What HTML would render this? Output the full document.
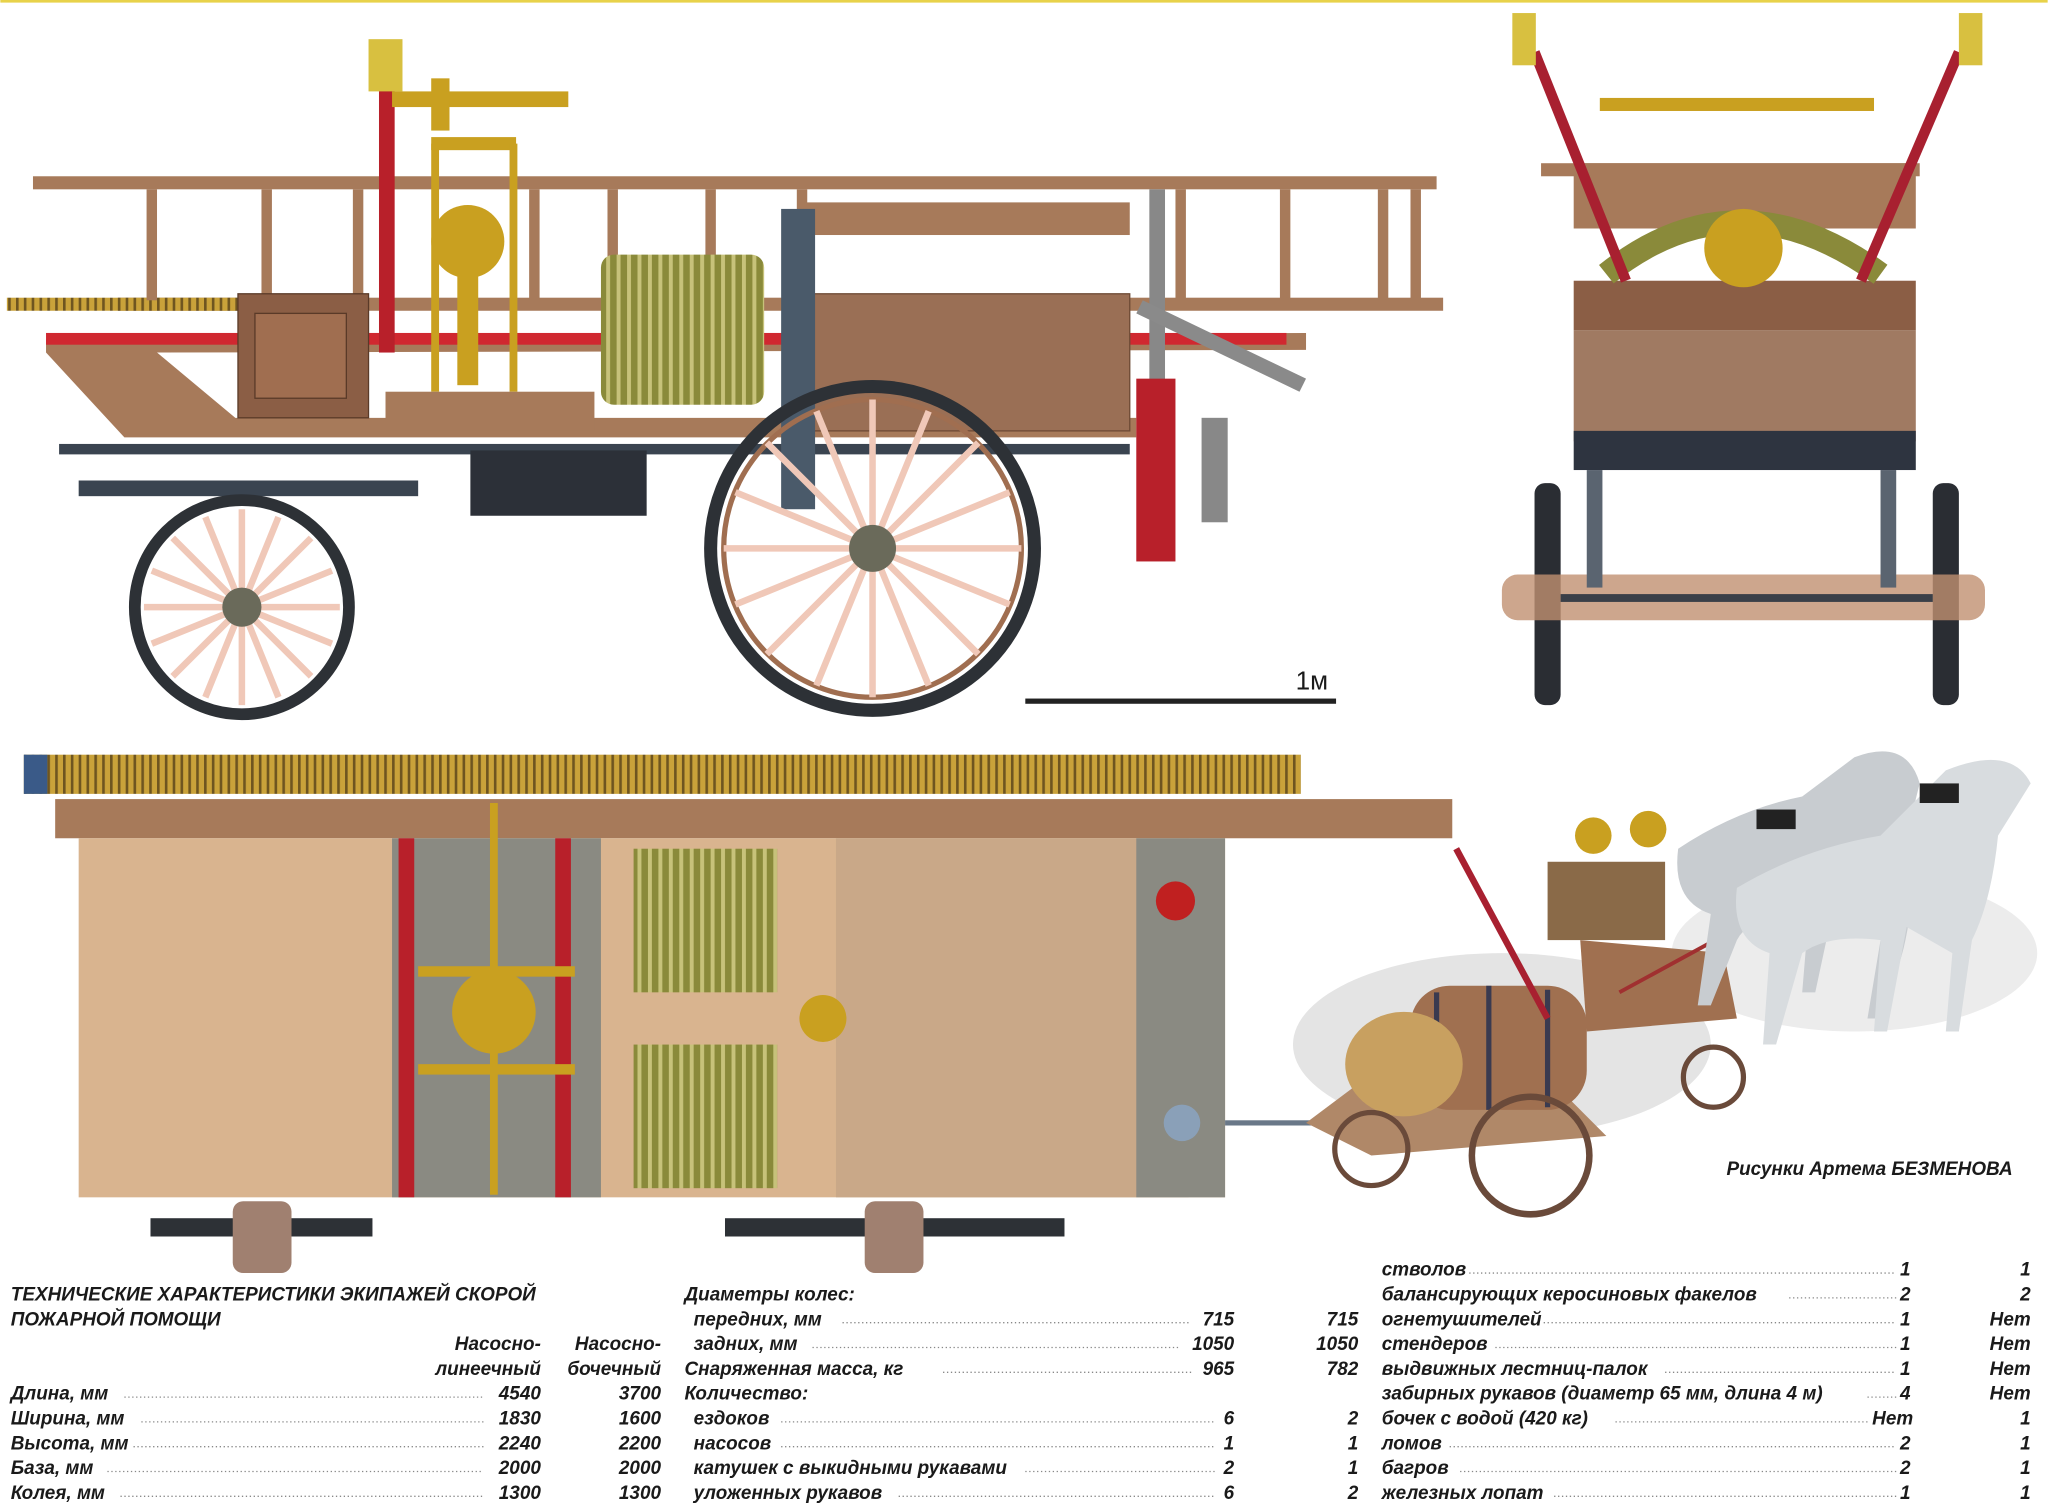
<!DOCTYPE html>
<html><head><meta charset="utf-8">
<style>
html,body{margin:0;padding:0;background:#fff;}
svg{display:block;}
text{font-family:"Liberation Sans",sans-serif;font-style:italic;font-weight:bold;font-size:14.5px;fill:#1a1a1a;}
.r{text-anchor:end;}
</style></head><body>
<svg width="2048" height="1512" viewBox="0 0 1568 1158" xmlns="http://www.w3.org/2000/svg">
<rect width="1568" height="1158" fill="#fff"/>
<rect width="1568" height="2" fill="#e8d24a"/>
<defs>
<pattern id="hatch" width="6" height="10" patternUnits="userSpaceOnUse"><rect width="6" height="10" fill="#c9a23a"/><rect width="2" height="10" fill="#6e5520"/></pattern>
<pattern id="coil" width="8" height="10" patternUnits="userSpaceOnUse"><rect width="8" height="10" fill="#8a8a3a"/><rect width="3" height="10" fill="#c7c27a"/></pattern>
</defs>

<!-- SIDE VIEW -->
<g>
<!-- ladder -->
<rect x="25" y="135" width="1075" height="10" fill="#a77a5a"/>
<rect x="90" y="228" width="1015" height="10" fill="#a77a5a"/>
<rect x="5" y="228" width="200" height="10" fill="url(#hatch)"/>
<g fill="#a77a5a">
<rect x="112" y="145" width="8" height="85"/><rect x="200" y="145" width="8" height="85"/><rect x="270" y="145" width="8" height="85"/><rect x="405" y="145" width="8" height="85"/><rect x="465" y="145" width="8" height="85"/><rect x="540" y="145" width="8" height="85"/><rect x="610" y="145" width="8" height="85"/><rect x="900" y="145" width="8" height="85"/><rect x="980" y="145" width="8" height="85"/><rect x="1055" y="145" width="8" height="85"/><rect x="1080" y="145" width="8" height="85"/>
</g>
<!-- chassis -->
<polygon points="35,260 1000,255 1000,268 120,270 180,320 870,320 870,335 95,335 35,270" fill="#a77a5a"/>
<rect x="35" y="255" width="950" height="9" fill="#d02830"/>
<rect x="45" y="340" width="820" height="8" fill="#3a4450"/>
<rect x="60" y="368" width="260" height="12" fill="#3a4450"/>
<rect x="360" y="345" width="135" height="50" fill="#2c3038"/>
<!-- box front -->
<rect x="182" y="225" width="100" height="95" fill="#8b5e45" stroke="#5a3a28"/>
<rect x="195" y="240" width="70" height="65" fill="#a06e50" stroke="#5a3a28"/>
<!-- body -->
<rect x="615" y="155" width="250" height="25" fill="#a77a5a"/>
<rect x="620" y="225" width="245" height="105" fill="#9a6f55" stroke="#6e4a35"/>
<rect x="598" y="160" width="26" height="230" fill="#4a5a6a"/>
<!-- hose reel -->
<rect x="460" y="195" width="125" height="115" rx="10" fill="url(#coil)"/>
<!-- pump -->
<rect x="330" y="105" width="65" height="10" fill="#c9a020"/>
<rect x="330" y="110" width="6" height="190" fill="#c9a020"/><rect x="390" y="110" width="6" height="190" fill="#c9a020"/>
<circle cx="358" cy="185" r="28" fill="#c9a020"/>
<rect x="350" y="210" width="16" height="85" fill="#c9a020"/>
<rect x="295" y="300" width="160" height="30" fill="#a77a5a"/>
<rect x="290" y="40" width="12" height="230" fill="#b8202a"/>
<rect x="282" y="30" width="26" height="40" fill="#d8c040"/>
<rect x="300" y="70" width="135" height="12" fill="#c9a020"/>
<rect x="330" y="60" width="14" height="40" fill="#c9a020"/>
<!-- stand right -->
<rect x="880" y="145" width="12" height="250" fill="#888"/>
<rect x="870" y="290" width="30" height="140" fill="#b8202a"/>
<polygon points="875,230 1000,290 995,300 870,240" fill="#8a8a8a"/>
<rect x="920" y="320" width="20" height="80" fill="#888"/>
<!-- wheels -->
<circle cx="668" cy="420" r="124" fill="none" stroke="#2d3136" stroke-width="10"/>
<circle cx="668" cy="420" r="114" fill="none" stroke="#a06e50" stroke-width="4"/>
<g stroke="#f0c8b8" stroke-width="5">
<line x1="668" y1="306" x2="668" y2="534"/><line x1="554" y1="420" x2="782" y2="420"/>
<line x1="587" y1="339" x2="749" y2="501"/><line x1="749" y1="339" x2="587" y2="501"/>
<line x1="625" y1="315" x2="711" y2="525"/><line x1="711" y1="315" x2="625" y2="525"/>
<line x1="563" y1="377" x2="773" y2="463"/><line x1="773" y1="377" x2="563" y2="463"/>
</g>
<circle cx="668" cy="420" r="18" fill="#6a6a5a"/>
<circle cx="185" cy="465" r="82" fill="none" stroke="#2d3136" stroke-width="9"/>
<g stroke="#f0c8b8" stroke-width="5">
<line x1="185" y1="390" x2="185" y2="540"/><line x1="110" y1="465" x2="260" y2="465"/>
<line x1="132" y1="412" x2="238" y2="518"/><line x1="238" y1="412" x2="132" y2="518"/>
<line x1="157" y1="396" x2="213" y2="534"/><line x1="213" y1="396" x2="157" y2="534"/>
<line x1="116" y1="437" x2="254" y2="493"/><line x1="254" y1="437" x2="116" y2="493"/>
</g>
<circle cx="185" cy="465" r="15" fill="#6a6a5a"/>
<!-- scale -->
<rect x="785" y="535" width="238" height="4" fill="#222"/>
<text x="992" y="528" style="font-style:normal;font-size:20px;font-weight:normal">1м</text>
</g>

<!-- REAR VIEW -->
<g>
<rect x="1180" y="125" width="290" height="10" fill="#a77a5a"/>
<rect x="1205" y="125" width="262" height="50" fill="#a77a5a"/>
<rect x="1205" y="215" width="262" height="38" fill="#8b5e45"/>
<rect x="1205" y="253" width="262" height="85" fill="#a07a62"/>
<rect x="1205" y="330" width="262" height="30" fill="#2e3440"/>
<path d="M1230,210 Q1330,130 1440,210" fill="none" stroke="#8a8a3a" stroke-width="18"/>
<circle cx="1335" cy="190" r="30" fill="#c9a020"/>
<rect x="1225" y="75" width="210" height="10" fill="#c9a020"/>
<line x1="1175" y1="40" x2="1245" y2="215" stroke="#a82030" stroke-width="8"/>
<line x1="1500" y1="40" x2="1425" y2="215" stroke="#a82030" stroke-width="8"/>
<rect x="1158" y="10" width="18" height="40" fill="#d8c040"/><rect x="1500" y="10" width="18" height="40" fill="#d8c040"/>
<rect x="1175" y="370" width="20" height="170" rx="8" fill="#2a2d33"/>
<rect x="1480" y="370" width="20" height="170" rx="8" fill="#2a2d33"/>
<rect x="1150" y="440" width="370" height="35" rx="12" fill="#c09070" opacity="0.8"/>
<rect x="1195" y="455" width="285" height="6" fill="#3a3f48"/>
<rect x="1215" y="360" width="12" height="90" fill="#5a6470"/><rect x="1440" y="360" width="12" height="90" fill="#5a6470"/>
</g>

<!-- TOP VIEW -->
<g>
<rect x="18" y="578" width="978" height="30" fill="url(#hatch)"/>
<rect x="18" y="578" width="18" height="30" fill="#3a5a88"/>
<rect x="42" y="612" width="1070" height="30" fill="#a77a5a"/>
<rect x="60" y="642" width="878" height="275" fill="#d9b48f"/>
<rect x="300" y="642" width="160" height="275" fill="#8a8a82"/>
<rect x="640" y="642" width="270" height="275" fill="#c9a888"/>
<rect x="870" y="642" width="68" height="275" fill="#8a8a82"/>
<rect x="305" y="642" width="12" height="275" fill="#b8202a"/><rect x="425" y="642" width="12" height="275" fill="#b8202a"/>
<circle cx="378" cy="775" r="32" fill="#c9a020"/>
<rect x="320" y="740" width="120" height="8" fill="#c9a020"/><rect x="320" y="815" width="120" height="8" fill="#c9a020"/>
<rect x="375" y="615" width="6" height="300" fill="#c9a020"/>
<rect x="485" y="650" width="110" height="110" fill="url(#coil)"/>
<rect x="485" y="800" width="110" height="110" fill="url(#coil)"/>
<circle cx="630" cy="780" r="18" fill="#c9a020"/>
<circle cx="900" cy="690" r="15" fill="#c02020"/>
<rect x="115" y="933" width="170" height="14" fill="#2d3136"/>
<rect x="555" y="933" width="260" height="14" fill="#2d3136"/>
<rect x="178" y="920" width="45" height="55" rx="8" fill="#a08070"/>
<rect x="662" y="920" width="45" height="55" rx="8" fill="#a08070"/>
<rect x="938" y="858" width="80" height="4" fill="#6a7888"/>
<circle cx="905" cy="860" r="14" fill="#8aa0b8"/>
</g>

<!-- HORSE CART ILLUSTRATION -->
<g>
<ellipse cx="1150" cy="800" rx="160" ry="70" fill="#e4e4e4"/>
<ellipse cx="1420" cy="730" rx="140" ry="60" fill="#ececec"/>
<polygon points="1000,860 1040,830 1200,840 1230,870 1050,885" fill="#b08868"/>
<rect x="1080" y="755" width="135" height="95" rx="30" fill="#a07050"/>
<g stroke="#3a3a50" stroke-width="4"><line x1="1100" y1="760" x2="1100" y2="845"/><line x1="1140" y1="755" x2="1140" y2="850"/><line x1="1185" y1="758" x2="1185" y2="848"/></g>
<ellipse cx="1075" cy="815" rx="45" ry="40" fill="#c8a060"/>
<polygon points="1210,720 1320,730 1330,780 1215,790" fill="#a07050"/>
<rect x="1185" y="660" width="90" height="60" fill="#8a6a48"/>
<circle cx="1220" cy="640" r="14" fill="#c9a020"/><circle cx="1262" cy="635" r="14" fill="#c9a020"/>
<circle cx="1172" cy="885" r="45" fill="none" stroke="#6a4a3a" stroke-width="5"/>
<circle cx="1050" cy="880" r="28" fill="none" stroke="#6a4a3a" stroke-width="4"/>
<circle cx="1312" cy="825" r="23" fill="none" stroke="#6a4a3a" stroke-width="4"/>
<line x1="1115" y1="650" x2="1185" y2="780" stroke="#a82030" stroke-width="5"/>
<line x1="1240" y1="760" x2="1460" y2="640" stroke="#a03030" stroke-width="3"/>
<!-- horses -->
<path d="M1285,650 Q1330,620 1380,610 L1420,580 Q1460,565 1470,600 L1460,640 Q1470,700 1450,750 L1440,780 L1430,780 L1440,720 L1405,690 L1390,760 L1380,760 L1385,700 Q1340,700 1330,720 L1310,770 L1300,770 L1310,700 Q1280,690 1285,650 Z" fill="#c8ccd0"/>
<path d="M1330,680 Q1380,650 1440,640 L1490,590 Q1540,570 1555,600 L1530,640 Q1525,690 1510,720 L1500,790 L1490,790 L1495,730 L1460,710 L1445,790 L1435,790 L1440,720 Q1400,715 1380,730 L1360,800 L1350,800 L1355,730 Q1325,720 1330,680 Z" fill="#d8dcdf"/>
<rect x="1345" y="620" width="30" height="15" fill="#222"/><rect x="1470" y="600" width="30" height="15" fill="#222"/>
<text x="1322" y="900">Рисунки Артема БЕЗМЕНОВА</text>
</g>

<!-- TABLE -->
<g>
<text x="8" y="996">ТЕХНИЧЕСКИЕ ХАРАКТЕРИСТИКИ ЭКИПАЖЕЙ СКОРОЙ</text>
<text x="8" y="1015">ПОЖАРНОЙ ПОМОЩИ</text>
<text class="r" x="414" y="1034">Насосно-</text><text class="r" x="506" y="1034">Насосно-</text>
<text class="r" x="414" y="1053">линеечный</text><text class="r" x="506" y="1053">бочечный</text>
<g stroke="#888" stroke-width="1" stroke-dasharray="1,2">
<line x1="95" y1="1070" x2="370" y2="1070"/><line x1="108" y1="1089" x2="370" y2="1089"/><line x1="102" y1="1108" x2="370" y2="1108"/><line x1="82" y1="1127" x2="370" y2="1127"/><line x1="92" y1="1146" x2="370" y2="1146"/>
<line x1="645" y1="1013" x2="912" y2="1013"/><line x1="622" y1="1032" x2="902" y2="1032"/><line x1="722" y1="1051" x2="912" y2="1051"/>
<line x1="598" y1="1089" x2="930" y2="1089"/><line x1="598" y1="1108" x2="930" y2="1108"/><line x1="785" y1="1127" x2="930" y2="1127"/><line x1="688" y1="1146" x2="930" y2="1146"/>
<line x1="1125" y1="975" x2="1452" y2="975"/><line x1="1370" y1="994" x2="1452" y2="994"/><line x1="1182" y1="1013" x2="1452" y2="1013"/><line x1="1145" y1="1032" x2="1452" y2="1032"/><line x1="1275" y1="1051" x2="1452" y2="1051"/><line x1="1430" y1="1070" x2="1452" y2="1070"/><line x1="1237" y1="1089" x2="1432" y2="1089"/><line x1="1110" y1="1108" x2="1452" y2="1108"/><line x1="1118" y1="1127" x2="1452" y2="1127"/><line x1="1190" y1="1146" x2="1452" y2="1146"/>
</g>
<text x="8" y="1072">Длина, мм</text><text class="r" x="414" y="1072">4540</text><text class="r" x="506" y="1072">3700</text>
<text x="8" y="1091">Ширина, мм</text><text class="r" x="414" y="1091">1830</text><text class="r" x="506" y="1091">1600</text>
<text x="8" y="1110">Высота, мм</text><text class="r" x="414" y="1110">2240</text><text class="r" x="506" y="1110">2200</text>
<text x="8" y="1129">База, мм</text><text class="r" x="414" y="1129">2000</text><text class="r" x="506" y="1129">2000</text>
<text x="8" y="1148">Колея, мм</text><text class="r" x="414" y="1148">1300</text><text class="r" x="506" y="1148">1300</text>

<text x="524" y="996">Диаметры колес:</text>
<text x="531" y="1015">передних, мм</text><text class="r" x="945" y="1015">715</text><text class="r" x="1040" y="1015">715</text>
<text x="531" y="1034">задних, мм</text><text class="r" x="945" y="1034">1050</text><text class="r" x="1040" y="1034">1050</text>
<text x="524" y="1053">Снаряженная масса, кг</text><text class="r" x="945" y="1053">965</text><text class="r" x="1040" y="1053">782</text>
<text x="524" y="1072">Количество:</text>
<text x="531" y="1091">ездоков</text><text class="r" x="945" y="1091">6</text><text class="r" x="1040" y="1091">2</text>
<text x="531" y="1110">насосов</text><text class="r" x="945" y="1110">1</text><text class="r" x="1040" y="1110">1</text>
<text x="531" y="1129">катушек с выкидными рукавами</text><text class="r" x="945" y="1129">2</text><text class="r" x="1040" y="1129">1</text>
<text x="531" y="1148">уложенных рукавов</text><text class="r" x="945" y="1148">6</text><text class="r" x="1040" y="1148">2</text>

<text x="1058" y="977">стволов</text><text class="r" x="1463" y="977">1</text><text class="r" x="1555" y="977">1</text>
<text x="1058" y="996">балансирующих керосиновых факелов</text><text class="r" x="1463" y="996">2</text><text class="r" x="1555" y="996">2</text>
<text x="1058" y="1015">огнетушителей</text><text class="r" x="1463" y="1015">1</text><text class="r" x="1555" y="1015">Нет</text>
<text x="1058" y="1034">стендеров</text><text class="r" x="1463" y="1034">1</text><text class="r" x="1555" y="1034">Нет</text>
<text x="1058" y="1053">выдвижных лестниц-палок</text><text class="r" x="1463" y="1053">1</text><text class="r" x="1555" y="1053">Нет</text>
<text x="1058" y="1072">забирных рукавов (диаметр 65 мм, длина 4 м)</text><text class="r" x="1463" y="1072">4</text><text class="r" x="1555" y="1072">Нет</text>
<text x="1058" y="1091">бочек с водой (420 кг)</text><text class="r" x="1465" y="1091">Нет</text><text class="r" x="1555" y="1091">1</text>
<text x="1058" y="1110">ломов</text><text class="r" x="1463" y="1110">2</text><text class="r" x="1555" y="1110">1</text>
<text x="1058" y="1129">багров</text><text class="r" x="1463" y="1129">2</text><text class="r" x="1555" y="1129">1</text>
<text x="1058" y="1148">железных лопат</text><text class="r" x="1463" y="1148">1</text><text class="r" x="1555" y="1148">1</text>
</g>
</svg>
</body></html>
